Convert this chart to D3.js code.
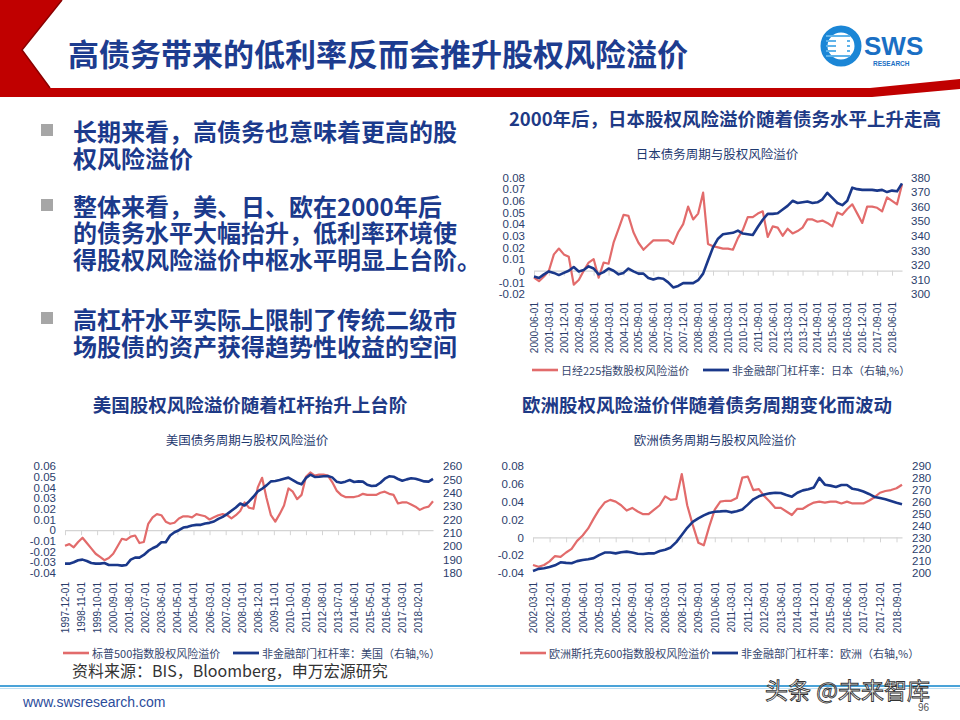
<!DOCTYPE html>
<html><head><meta charset="utf-8">
<script src="https://cdn.jsdelivr.net/npm/d3@7"></script>
<style>
body{margin:0;background:#fff;}
svg{display:block;}
</style></head><body>
<svg id="slide" width="960" height="720"></svg>
<script>
// ---------------- DATA ----------------
const pageTitle = "高债务带来的低利率反而会推升股权风险溢价";
const bullets = [
  ["长期来看，高债务也意味着更高的股", "权风险溢价"],
  ["整体来看，美、日、欧在2000年后", "的债务水平大幅抬升，低利率环境使", "得股权风险溢价中枢水平明显上台阶。"],
  ["高杠杆水平实际上限制了传统二级市", "场股债的资产获得趋势性收益的空间"]
];

// Japan (quarterly, 2000-06 .. 2018-12)
const jpStart = "2000-06-01";
const jpRed = [
  -0.006,-0.009,-0.005,0.000,0.014,0.019,0.014,0.012,-0.012,-0.008,
  0.000,0.007,0.010,-0.006,0.007,0.006,0.024,0.036,0.048,0.047,
  0.033,0.024,0.018,0.022,0.026,0.026,0.026,0.026,0.023,0.033,
  0.040,0.055,0.044,0.049,0.067,0.023,0.021,0.020,0.019,0.019,
  0.018,0.028,0.035,0.046,0.046,0.049,0.051,0.029,0.038,0.037,
  0.030,0.036,0.032,0.034,0.037,0.044,0.044,0.042,0.043,0.041,
  0.038,0.050,0.048,0.053,0.057,0.049,0.041,0.055,0.055,0.054,
  0.051,0.063,0.060,0.057,0.074];
const jpBlue = [
  312,311,313.5,315.5,314.5,313,314.5,316,318.5,315.5,
  316.5,319,317.5,313.5,315,317.5,316,313.5,314.5,317.5,
  315.5,314,314,311,310,311,310.5,308,304.5,305.5,
  307.5,307.5,307.5,309.5,314,323,332,338,341,341.5,
  342,343.5,341.5,341,340.5,346,351,355,355,355.5,
  358,360.5,364,362.5,363,363.5,362.5,363,365,369.5,
  366,362.5,361,364,373,372,371.5,371.5,371.5,371,
  371.5,370,371,370.5,376];
const jpTickLabels = ["2000-06-01","2001-03-01","2001-12-01","2002-09-01","2003-06-01","2004-03-01","2004-12-01","2005-09-01","2006-06-01","2007-03-01","2007-12-01","2008-09-01","2009-06-01","2010-03-01","2010-12-01","2011-09-01","2012-06-01","2013-03-01","2013-12-01","2014-09-01","2015-06-01","2016-03-01","2016-12-01","2017-09-01","2018-06-01"];
const jpLeftTicks = [-0.02,-0.01,0,0.01,0.02,0.03,0.04,0.05,0.06,0.07,0.08];
const jpRightTicks = [300,310,320,330,340,350,360,370,380];

// US (quarterly, 1997-12 .. 2018-12)
const usStart = "1997-12-01";
const usRed = [
  -0.0145,-0.013,-0.016,-0.011,-0.007,-0.012,-0.017,-0.022,-0.025,-0.028,
  -0.026,-0.022,-0.015,-0.008,-0.009,-0.006,-0.005,-0.012,-0.011,0.006,
  0.012,0.015,0.014,0.008,0.006,0.007,0.011,0.013,0.013,0.012,
  0.015,0.014,0.013,0.010,0.012,0.014,0.015,0.014,0.011,0.014,
  0.018,0.026,0.021,0.020,0.040,0.049,0.030,0.014,0.008,0.015,
  0.023,0.039,0.036,0.029,0.033,0.050,0.054,0.051,0.052,0.052,
  0.051,0.045,0.037,0.033,0.031,0.031,0.031,0.032,0.034,0.033,
  0.033,0.033,0.035,0.036,0.034,0.033,0.025,0.026,0.026,0.024,
  0.022,0.019,0.021,0.022,0.027];
const usBlue = [
  187,187,188,189.5,190,189,187.5,187,187,187.5,
  186,186,186,185.5,186,190,191.5,191.5,193.5,196.5,
  198.5,200,203,203,208,210.5,212,214,214.5,215.5,
  216,216,217,217.5,218.5,220.5,222,224,226.5,229,
  232,230.5,233.5,237,241,243,245.5,248.5,248.8,249.5,
  250.5,251.3,249.5,247.5,246.3,251,253.5,251.8,252,252.3,
  252.5,251.5,248.3,247.5,248.3,249.5,248,248.5,248.3,246,
  245.1,245.3,247.5,250.5,252.3,252,250.3,249,250,250.8,
  250.5,249.5,248.5,248.3,250.3];
const usTickLabels = ["1997-12-01","1998-11-01","1999-10-01","2000-09-01","2001-08-01","2002-07-01","2003-06-01","2004-05-01","2005-04-01","2006-03-01","2007-02-01","2008-01-01","2008-12-01","2009-11-01","2010-10-01","2011-09-01","2012-08-01","2013-07-01","2014-06-01","2015-05-01","2016-04-01","2017-03-01","2018-02-01"];
const usLeftTicks = [-0.04,-0.03,-0.02,-0.01,0,0.01,0.02,0.03,0.04,0.05,0.06];
const usRightTicks = [180,190,200,210,220,230,240,250,260];

// Europe (quarterly, 2002-03 .. 2018-12)
const euStart = "2002-03-01";
const euRed = [
  -0.031,-0.033,-0.031,-0.027,-0.021,-0.022,-0.017,-0.013,-0.004,0.002,
  0.010,0.021,0.031,0.039,0.042,0.040,0.036,0.030,0.033,0.029,
  0.026,0.026,0.031,0.036,0.046,0.042,0.043,0.071,0.036,0.014,
  -0.006,-0.009,0.012,0.031,0.040,0.041,0.041,0.044,0.067,0.068,
  0.053,0.054,0.046,0.040,0.033,0.033,0.029,0.025,0.032,0.032,
  0.036,0.039,0.040,0.039,0.040,0.040,0.038,0.040,0.038,0.038,
  0.038,0.041,0.045,0.050,0.052,0.053,0.055,0.059];
const euBlue = [
  201.7,203.5,204,205,206.5,209,208.5,208.2,210,211,
  211.6,212.5,215,217.2,217.2,216.5,217.5,218,217.2,216.2,
  216,216.5,216.5,218.5,219.5,221.5,226,232,238,243,
  246,248.5,250.5,251.5,251.8,252.2,251,252,253.5,257.5,
  262,264.5,266,267,267.5,267.3,265.6,264.2,267.5,269.5,
  270.4,272,280,274.3,273.5,272.3,274,274,270.8,270,
  268.5,266.5,264,263,262,260.5,259,257.8];
const euTickLabels = ["2002-03-01","2002-12-01","2003-09-01","2004-06-01","2005-03-01","2005-12-01","2006-09-01","2007-06-01","2008-03-01","2008-12-01","2009-09-01","2010-06-01","2011-03-01","2011-12-01","2012-09-01","2013-06-01","2014-03-01","2014-12-01","2015-09-01","2016-06-01","2017-03-01","2017-12-01","2018-09-01"];
const euLeftTicks = [-0.04,-0.02,0,0.02,0.04,0.06,0.08];
const euRightTicks = [200,210,220,230,240,250,260,270,280,290];

// ---------------- DRAW ----------------
const svg = d3.select("#slide");
const CJK = '"Noto Sans CJK SC","Noto Sans",sans-serif';
const NUM = '"Liberation Sans",Arial,sans-serif';
const RED = "#e26b6b", BLUE = "#1a388a";
const LBL = "#2b3d6b";
const parse = d3.timeParse("%Y-%m-%d");
const fmtDate = d3.timeFormat("%Y-%m-%d");

svg.append("rect").attr("width",960).attr("height",720).attr("fill","#fff");

// header shapes
svg.append("path")
  .attr("d","M0,0 L62,0 L22,50 L50,88 L870,88 L960,79 L960,89 L872,97 L0,97 Z")
  .attr("fill","#c00000");
svg.append("path")
  .attr("d","M62,0 L22,50 L50,88")
  .attr("fill","none").attr("stroke","#8a0000").attr("stroke-width",1.5);

svg.append("text").attr("x",68).attr("y",66)
  .style("font-family",CJK).style("font-weight","700").style("font-size","31px")
  .attr("fill","#1d3c8f").text(pageTitle);

// logo
const logo = svg.append("g");
logo.append("circle").attr("cx",841).attr("cy",46).attr("r",17)
  .attr("fill","none").attr("stroke","#1b86d6").attr("stroke-width",7);
[36,41,46,51,56].forEach(yy=>logo.append("line").attr("x1",826).attr("x2",850)
  .attr("y1",yy).attr("y2",yy).attr("stroke","#5fb3ea").attr("stroke-width",2));
logo.append("rect").attr("x",836).attr("y",39).attr("width",11).attr("height",14).attr("fill","#fff");
logo.append("text").attr("x",864).attr("y",55)
  .style("font-family",NUM).style("font-weight","700").style("font-size","26px")
  .attr("fill","#1a6fc4").text("SWS");
logo.append("text").attr("x",873).attr("y",66)
  .style("font-family",NUM).style("font-weight","700").style("font-size","6.5px")
  .attr("fill","#1a6fc4").text("RESEARCH");

// bullets
const bulletLineY = [[130,157],[205,231,258],[318,345]];
bullets.forEach((lines,bi)=>{
  svg.append("rect").attr("x",41).attr("y",bulletLineY[bi][0]-6).attr("width",12).attr("height",12).attr("fill","#a6a6a6");
  lines.forEach((t,li)=>{
    svg.append("text").attr("x",73).attr("y",bulletLineY[bi][li])
      .attr("dominant-baseline","central")
      .style("font-family",CJK).style("font-weight","700").style("font-size","24px")
      .attr("fill","#1b3a8c").text(t);
  });
});

// section titles
function sectionTitle(t,x,y){
  svg.append("text").attr("x",x).attr("y",y).attr("text-anchor","middle").attr("dominant-baseline","central")
    .style("font-family",CJK).style("font-weight","700").style("font-size","18.5px")
    .attr("fill","#1e3a86").text(t);
}
sectionTitle("2000年后，日本股权风险溢价随着债务水平上升走高",725,118);
sectionTitle("美国股权风险溢价随着杠杆抬升上台阶",250,404);
sectionTitle("欧洲股权风险溢价伴随着债务周期变化而波动",707,404);

function fmtLeft(v){ return Math.abs(v)<1e-9 ? "0" : v.toFixed(2); }

function drawChart(c){
  const g = svg.append("g");
  const s0 = parse(c.start);
  const dates = c.red.map((d,i)=>d3.timeMonth.offset(s0,3*i));
  const x = d3.scaleTime().domain([dates[0],dates[dates.length-1]]).range([c.x0,c.x1]);
  const yL = d3.scaleLinear().domain([c.leftTicks[0],c.leftTicks[c.leftTicks.length-1]]).range([c.yBottom,c.yTop]);
  const yR = d3.scaleLinear().domain([c.rightTicks[0],c.rightTicks[c.rightTicks.length-1]]).range([c.yBottom,c.yTop]);

  g.append("text").attr("x",c.subX).attr("y",c.subY).attr("text-anchor","middle").attr("dominant-baseline","central")
    .style("font-family",CJK).style("font-size","12.5px").attr("fill","#1f3a70").text(c.subtitle);

  // left axis labels
  const la = g.append("g").attr("transform",`translate(${c.leftX},0)`)
    .call(d3.axisLeft(yL).tickValues(c.leftTicks).tickFormat(fmtLeft).tickSize(0).tickPadding(0));
  la.select(".domain").remove();
  la.selectAll("text").style("font-family",NUM).style("font-size","11.5px").attr("fill",LBL);

  // right axis labels
  const ra = g.append("g").attr("transform",`translate(${c.rightX},0)`)
    .call(d3.axisRight(yR).tickValues(c.rightTicks).tickSize(0).tickPadding(0));
  ra.select(".domain").remove();
  ra.selectAll("text").style("font-family",NUM).style("font-size","11.5px").attr("fill",LBL);

  // zero axis with tick marks
  const tickDates = c.tickLabels.map(parse);
  const za = g.append("g").attr("transform",`translate(0,${yL(0)})`)
    .call(d3.axisBottom(x).tickValues(tickDates).tickSize(5).tickSizeOuter(0).tickFormat(""));
  za.select(".domain").attr("stroke","#d4d4d4").attr("stroke-width",1.2);
  za.selectAll(".tick line").attr("stroke","#d4d4d4");

  // date labels at the bottom
  const da = g.append("g").attr("transform",`translate(0,${c.labelY})`)
    .call(d3.axisBottom(x).tickValues(tickDates).tickSize(0).tickFormat(fmtDate));
  da.select(".domain").remove();
  da.selectAll("text").attr("transform","rotate(-90)").attr("text-anchor","end")
    .attr("x",0).attr("y",0).attr("dy","0.35em")
    .style("font-family",NUM).style("font-size","10px").attr("fill",LBL);

  // lines
  g.append("path").datum(c.red).attr("fill","none").attr("stroke",RED).attr("stroke-width",2.2)
    .attr("stroke-linejoin","round")
    .attr("d",d3.line().x((d,i)=>x(dates[i])).y(d=>yL(d)));
  g.append("path").datum(c.blue).attr("fill","none").attr("stroke",BLUE).attr("stroke-width",2.6)
    .attr("stroke-linejoin","round")
    .attr("d",d3.line().x((d,i)=>x(dates[i])).y(d=>yR(d)));

  // legend
  const lg = g.append("g");
  lg.append("line").attr("x1",c.leg[0]).attr("x2",c.leg[0]+26).attr("y1",c.legY).attr("y2",c.legY)
    .attr("stroke",RED).attr("stroke-width",2.6);
  lg.append("text").attr("x",c.leg[0]+29).attr("y",c.legY).attr("dominant-baseline","central")
    .style("font-family",CJK).style("font-size","11px").attr("fill","#34466e").text(c.redName);
  lg.append("line").attr("x1",c.leg[1]).attr("x2",c.leg[1]+26).attr("y1",c.legY).attr("y2",c.legY)
    .attr("stroke",BLUE).attr("stroke-width",2.8);
  lg.append("text").attr("x",c.leg[1]+29).attr("y",c.legY).attr("dominant-baseline","central")
    .style("font-family",CJK).style("font-size","11px").attr("fill","#34466e").text(c.blueName);
}

drawChart({start:jpStart, red:jpRed, blue:jpBlue, tickLabels:jpTickLabels,
  leftTicks:jpLeftTicks, rightTicks:jpRightTicks,
  x0:534, x1:902, yTop:177.5, yBottom:294, leftX:525, rightX:911, labelY:302,
  subtitle:"日本债务周期与股权风险溢价", subX:717, subY:153,
  legY:370, leg:[532,703], redName:"日经225指数股权风险溢价", blueName:"非金融部门杠杆率：日本（右轴,%）"});

drawChart({start:usStart, red:usRed, blue:usBlue, tickLabels:usTickLabels,
  leftTicks:usLeftTicks, rightTicks:usRightTicks,
  x0:65, x1:433, yTop:466, yBottom:573, leftX:56, rightX:443, labelY:582,
  subtitle:"美国债务周期与股权风险溢价", subX:247, subY:439,
  legY:653, leg:[63,233], redName:"标普500指数股权风险溢价", blueName:"非金融部门杠杆率：美国（右轴,%）"});

drawChart({start:euStart, red:euRed, blue:euBlue, tickLabels:euTickLabels,
  leftTicks:euLeftTicks, rightTicks:euRightTicks,
  x0:533, x1:902, yTop:466, yBottom:573, leftX:524, rightX:912, labelY:582,
  subtitle:"欧洲债务周期与股权风险溢价", subX:715, subY:439,
  legY:653, leg:[520,712], redName:"欧洲斯托克600指数股权风险溢价", blueName:"非金融部门杠杆率：欧洲（右轴,%）"});

// source
svg.append("text").attr("x",72).attr("y",670).attr("dominant-baseline","central")
  .style("font-family",CJK).style("font-size","16px").attr("fill","#333").text("资料来源：BIS，Bloomberg，申万宏源研究");

// footer
svg.append("line").attr("x1",0).attr("x2",960).attr("y1",686).attr("y2",686).attr("stroke","#4aa3d8").attr("stroke-width",2);
svg.append("line").attr("x1",0).attr("x2",960).attr("y1",688.5).attr("y2",688.5).attr("stroke","#bfe0f2").attr("stroke-width",1);
svg.append("text").attr("x",23).attr("y",702).attr("dominant-baseline","central")
  .style("font-family",NUM).style("font-size","14px").attr("fill","#2b4c9b").text("www.swsresearch.com");
svg.append("text").attr("x",918).attr("y",707).attr("dominant-baseline","central")
  .style("font-family",NUM).style("font-size","10px").attr("fill","#555").text("96");
svg.append("text").attr("x",765).attr("y",689).attr("dominant-baseline","central")
  .style("font-family",CJK).style("font-size","23px")
  .attr("fill","#fff").attr("stroke","#333").attr("stroke-width",0.9).text("头条 @未来智库");
</script>
</body></html>
